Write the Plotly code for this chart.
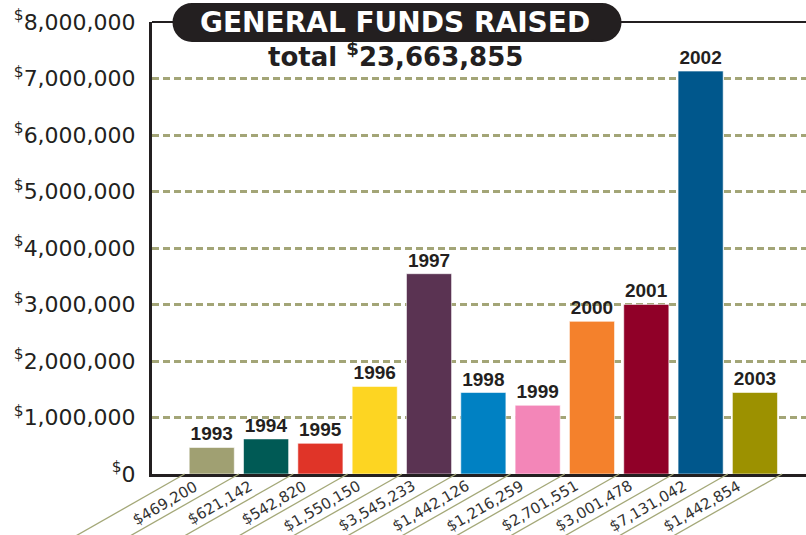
import plotly.graph_objects as go

# ---------------- data ----------------
years = ["1993", "1994", "1995", "1996", "1997", "1998", "1999", "2000", "2001", "2002", "2003"]
amounts = [469200, 621142, 542820, 1550150, 3545233, 1442126, 1216259, 2701551, 3001478, 7131042, 1442854]
amount_labels = ["$469,200", "$621,142", "$542,820", "$1,550,150", "$3,545,233", "$1,442,126",
                 "$1,216,259", "$2,701,551", "$3,001,478", "$7,131,042", "$1,442,854"]
bar_colors = ["#A0A072", "#005A55", "#E03428", "#FDD522", "#5A3352", "#0081C3",
              "#F386B8", "#F4812C", "#900028", "#00578C", "#9C9100"]
y_tick_values = [0, 1000000, 2000000, 3000000, 4000000, 5000000, 6000000, 7000000, 8000000]
y_tick_labels = ["<sup>$</sup>0", "<sup>$</sup>1,000,000", "<sup>$</sup>2,000,000", "<sup>$</sup>3,000,000",
                 "<sup>$</sup>4,000,000", "<sup>$</sup>5,000,000", "<sup>$</sup>6,000,000",
                 "<sup>$</sup>7,000,000", "<sup>$</sup>8,000,000"]
title_text = "GENERAL FUNDS RAISED"
total_text = "total <sup>$</sup>23,663,855"

# ---------------- styling ----------------
DARK = "#231F20"
OLIVE = "#A3A577"
X_RANGE = [-1.1, 10.94]
W, H = 806, 535
ML, MR, MT, MB = 152, 0, 22, 61
plot_w = W - ML - MR

fig = go.Figure()
fig.add_trace(go.Bar(
    x=years, y=amounts,
    marker=dict(color=bar_colors, line=dict(color="rgba(255,255,255,0.7)", width=0.8)),
    width=0.83,
    text=["<b>%s</b>" % y for y in years],
    texttemplate="%{text}",
    textposition="outside",
    constraintext="none",
    textfont=dict(family="Liberation Sans, Arial, sans-serif", size=19, color=DARK),
    cliponaxis=False,
    hoverinfo="skip",
))

shapes = []
# top frame line
shapes.append(dict(type="line", xref="paper", yref="paper", x0=0, x1=1, y0=1, y1=1,
                   line=dict(color=DARK, width=2)))
# diagonal separators under axis
for k in range(len(years) + 1):
    frac = (k - 0.5 - X_RANGE[0]) / (X_RANGE[1] - X_RANGE[0])
    shapes.append(dict(type="line", xref="paper", yref="paper",
                       xsizemode="pixel", xanchor=frac, x0=0, x1=-130,
                       ysizemode="pixel", yanchor=0, y0=0, y1=-74,
                       line=dict(color="#A4A878", width=1.3)))
# title pill
pill = dict(xref="paper", yref="paper", xsizemode="pixel", xanchor=0,
            ysizemode="pixel", yanchor=1, fillcolor=DARK, line=dict(width=0))
shapes.append(dict(type="rect", x0=40, x1=450, y0=-20, y1=19, **pill))
shapes.append(dict(type="circle", x0=20.5, x1=59.5, y0=-20, y1=19, **pill))
shapes.append(dict(type="circle", x0=430.5, x1=469.5, y0=-20, y1=19, **pill))

annotations = []
title_x = (395 - ML) / plot_w
annotations.append(dict(text="<b>%s</b>" % title_text, xref="paper", yref="paper", x=title_x, y=1,
                        yshift=-0.5, xanchor="center", yanchor="middle", showarrow=False,
                        borderpad=0, borderwidth=0,
                        font=dict(family="DejaVu Sans", size=28, color="white")))
annotations.append(dict(text="<b>%s</b>" % total_text, xref="paper", yref="paper", x=title_x, y=1,
                        yshift=-33, xanchor="center", yanchor="middle", showarrow=False,
                        borderpad=0, borderwidth=0,
                        font=dict(family="DejaVu Sans", size=26, color=DARK)))
for i, lab in enumerate(amount_labels):
    annotations.append(dict(text=lab, x=i, y=0, xref="x", yref="paper",
                            xanchor="right", yanchor="top", xshift=-8, yshift=0,
                            textangle=-30, showarrow=False,
                            font=dict(family="DejaVu Sans", size=15, color="#333333")))

fig.update_layout(
    width=W, height=H,
    margin=dict(l=ML, r=MR, t=MT, b=MB, pad=0),
    paper_bgcolor="white", plot_bgcolor="white",
    showlegend=False,
    shapes=shapes,
    annotations=annotations,
    bargap=0.17,
    xaxis=dict(type="category", range=X_RANGE, showticklabels=False, ticks="",
               showgrid=False, showline=True, linecolor=DARK, linewidth=3, zeroline=False,
               fixedrange=True),
    yaxis=dict(range=[0, 8000000], tickvals=y_tick_values, ticktext=y_tick_labels,
               tickfont=dict(family="DejaVu Sans", size=22, color=DARK),
               ticks="outside", ticklen=9, tickcolor="rgba(0,0,0,0)",
               ticklabeloverflow="allow",
               showgrid=True, gridcolor=OLIVE, gridwidth=2.5, griddash="7px,4px",
               showline=True, linecolor=DARK, linewidth=3, zeroline=False,
               fixedrange=True),
)

fig.write_html("out.html", config={"displayModeBar": False},
               post_script="document.body.style.margin='0px';document.body.style.overflow='hidden';")
